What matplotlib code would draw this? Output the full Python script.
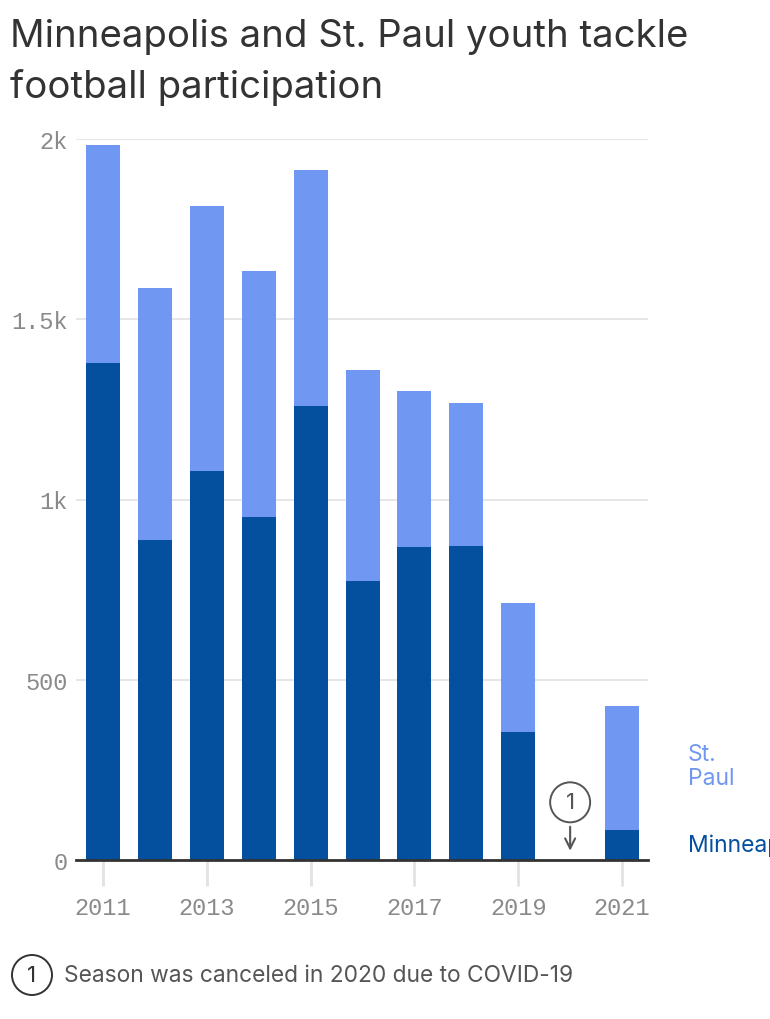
import matplotlib
matplotlib.use("Agg")
import matplotlib.pyplot as plt
import numpy as np

years = [2011, 2012, 2013, 2014, 2015, 2016, 2017, 2018, 2019, 2020, 2021]
minneapolis = [1379, 888, 1079, 951, 1259, 774, 868, 871, 355, 0, 83]
st_paul = [604, 699, 735, 683, 655, 585, 433, 397, 358, 0, 344]
tick_years = [2011, 2013, 2015, 2017, 2019, 2021]
y_ticks = [0, 500, 1000, 1500, 2000]
y_labels = ["0", "500", "1k", "1.5k", "2k"]

C_MPLS = "#04509f"
C_STP = "#7097f2"
GRID = "#e2e2e2"
TICK_TXT = "#8a8a8a"

fig = plt.figure(figsize=(7.7, 10.2), dpi=100)
ax = fig.add_axes([76/770, 1 - 861/1020, (648-76)/770, (861-140)/1020])

ax.bar(years, minneapolis, width=0.655, color=C_MPLS, zorder=2)
ax.bar(years, st_paul, width=0.655, bottom=minneapolis, color=C_STP, zorder=2)

ax.set_xlim(2010.48, 2021.5)
ax.set_ylim(0, 2000)
ax.set_yticks(y_ticks)
ax.set_yticklabels(y_labels, family="Liberation Mono", fontsize=17, color=TICK_TXT)
ax.set_xticks(tick_years)
ax.set_xticklabels([str(y) for y in tick_years], family="Liberation Mono", fontsize=17, color=TICK_TXT)
ax.tick_params(axis="y", length=0, pad=6)
ax.tick_params(axis="x", length=19, width=2, color=GRID, pad=7)
for s in ["top", "right", "left"]:
    ax.spines[s].set_visible(False)
ax.spines["bottom"].set_color("#333333")
ax.spines["bottom"].set_linewidth(2)
ax.spines["bottom"].set_zorder(3)
ax.grid(axis="y", color=GRID, linewidth=1.2, zorder=0)
ax.set_axisbelow(True)

# annotation for 2020
ax.annotate("", xy=(2020, 18), xytext=(2020, 100),
            arrowprops=dict(arrowstyle="->", color="#555555", lw=1.5, mutation_scale=18))
ax.text(2020, 160, "1", ha="center", va="center", fontsize=16, color="#555555",
        family="Inter",
        bbox=dict(boxstyle="circle,pad=0.45", fc="white", ec="#555555", lw=1.4))

# legend labels at right
fig.text(688/770, 1 - 767/1020, "St.\nPaul", color=C_STP, fontsize=16.5, family="Inter",
         ha="left", va="center", linespacing=1.15)
fig.text(688/770, 1 - 846/1020, "Minneapolis", color=C_MPLS, fontsize=16.5, family="Inter",
         ha="left", va="center")

# title
fig.text(10/770, 1 - 37/1020, "Minneapolis and St. Paul youth tackle", fontsize=27.6,
         color="#333333", family="Inter", ha="left", va="center")
fig.text(10/770, 1 - 88/1020, "football participation", fontsize=27.6,
         color="#333333", family="Inter", ha="left", va="center")

# footnote
fig.text(32/770, 1 - 976/1020, "1", fontsize=16, color="#333333", family="Inter",
         ha="center", va="center",
         bbox=dict(boxstyle="circle,pad=0.45", fc="white", ec="#333333", lw=1.4))
fig.text(64/770, 1 - 976/1020, "Season was canceled in 2020 due to COVID-19", fontsize=16.4,
         color="#555555", family="Inter", ha="left", va="center")

fig.savefig("out.png", dpi=100)
